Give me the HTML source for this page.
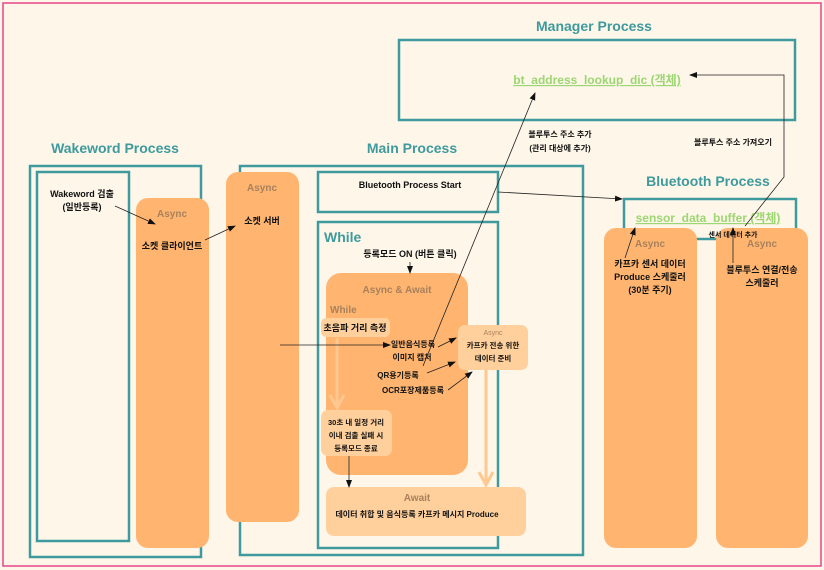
<!DOCTYPE html>
<html><head><meta charset="utf-8"><style>
html,body{margin:0;padding:0;background:#fdf6e9;}
svg{display:block;font-family:"Liberation Sans","Noto Sans CJK KR",sans-serif;}
.b{font-weight:bold;}
</style></head><body>
<svg width="824" height="570" viewBox="0 0 824 570" xmlns="http://www.w3.org/2000/svg">
<defs>
<marker id="a" markerWidth="8" markerHeight="8" refX="7" refY="4" orient="auto" markerUnits="userSpaceOnUse"><path d="M0,1 L8,4 L0,7z" fill="#111"/></marker>
</defs>
<rect x="0" y="0" width="824" height="570" fill="#fdf6e9"/>
<rect x="3" y="3" width="818" height="563" fill="none" stroke="#e8458a" stroke-width="1.5"/>
<g fill="none" stroke="#3e9a9c" stroke-width="2.5">
<rect x="399" y="40" width="396" height="80"/>
<rect x="30" y="166" width="171" height="391"/>
<rect x="37" y="172" width="92" height="369"/>
<rect x="240" y="166" width="343" height="389"/>
<rect x="318" y="172" width="180" height="40"/>
<rect x="318" y="222" width="180" height="326"/>
<rect x="624" y="199" width="172" height="40"/>
</g>
<g fill="#3e9a9c" class="b" font-size="14" text-anchor="middle">
<text x="594" y="31">Manager Process</text>
<text x="115" y="153">Wakeword Process</text>
<text x="412" y="153">Main Process</text>
<text x="708" y="186">Bluetooth Process</text>
<text x="324" y="242" text-anchor="start">While</text>
</g>
<g fill="#ffb570">
<rect x="136" y="198" width="73" height="350" rx="12"/>
<rect x="226" y="172" width="73" height="350" rx="12"/>
<rect x="326" y="273" width="142" height="202" rx="15"/>
<rect x="604" y="228" width="93" height="320" rx="12"/>
<rect x="716" y="228" width="92" height="320" rx="12"/>
</g>
<g fill="#ffd09c">
<rect x="321" y="318" width="69" height="19" rx="5"/>
<rect x="321" y="410" width="71" height="46" rx="7"/>
<rect x="326" y="487" width="200" height="49" rx="8"/>
<rect x="458" y="325" width="70" height="45" rx="7"/>
</g>
<g stroke="#ffc890" stroke-width="3" fill="none">
<line x1="337" y1="338" x2="337" y2="408"/>
<polyline points="330,395 337,408 344,395"/>
<line x1="486" y1="370" x2="486" y2="485"/>
<polyline points="479,472 486,485 493,472"/>
</g>
<g fill="#a8805c" class="b" font-size="10" text-anchor="middle">
<text x="172" y="217">Async</text>
<text x="262" y="191">Async</text>
<text x="397" y="293">Async &amp; Await</text>
<text x="330" y="313" text-anchor="start">While</text>
<text x="417" y="501">Await</text>
<text x="650" y="247">Async</text>
<text x="762" y="247">Async</text>
<text x="493" y="335" font-size="7" font-weight="normal">Async</text>
</g>
<g fill="#111" class="b" font-size="9" text-anchor="middle">
<text x="82" y="197">Wakeword 검출</text>
<text x="82" y="210">(일반등록)</text>
<text x="172" y="249">소켓 클라이언트</text>
<text x="262" y="224">소켓 서버</text>
<text x="410" y="188">Bluetooth Process Start</text>
<text x="410" y="257">등록모드 ON (버튼 클릭)</text>
<text x="355" y="331">초음파 거리 측정</text>
<text x="413" y="347" font-size="8">일반음식등록</text>
<text x="412" y="360" font-size="8">이미지 캡처</text>
<text x="398" y="378" font-size="8">QR용기등록</text>
<text x="413" y="393" font-size="8">OCR포장제품등록</text>
<text x="493" y="348" font-size="7.5">카프카 전송 위한</text>
<text x="493" y="361" font-size="7.5">데이터 준비</text>
<text x="356" y="425" font-size="7.5">30초 내 일정 거리</text>
<text x="356" y="438" font-size="7.5">이내 검출 실패 시</text>
<text x="356" y="451" font-size="7.5">등록모드 종료</text>
<text x="417" y="517" font-size="8">데이터 취합 및 음식등록 카프카 메시지 Produce</text>
<text x="650" y="267">카프카 센서 데이터</text>
<text x="650" y="280">Produce 스케줄러</text>
<text x="650" y="293">(30분 주기)</text>
<text x="762" y="273">블루투스 연결/전송</text>
<text x="762" y="286">스케줄러</text>
<text x="733" y="237" font-size="7">센서 데이터 추가</text>
<text x="560" y="137" font-size="8">블루투스 주소 추가</text>
<text x="560" y="151" font-size="8">(관리 대상에 추가)</text>
<text x="733" y="145" font-size="8">블루투스 주소 가져오기</text>
</g>
<g fill="#9dd672" class="b" font-size="12" text-anchor="middle" text-decoration="underline">
<text x="597" y="84">bt_address_lookup_dic (객체)</text>
<text x="708" y="222">sensor_data_buffer (객체)</text>
</g>
<g stroke="#222" stroke-width="0.8" fill="none">
<line x1="115" y1="206" x2="155" y2="224" marker-end="url(#a)"/>
<line x1="205" y1="240" x2="235" y2="226" marker-end="url(#a)"/>
<line x1="410" y1="262" x2="410" y2="273" marker-end="url(#a)"/>
<line x1="280" y1="345" x2="390" y2="345" marker-end="url(#a)"/>
<line x1="438" y1="347" x2="456" y2="338" marker-end="url(#a)"/>
<line x1="427" y1="373" x2="455" y2="362" marker-end="url(#a)"/>
<line x1="448" y1="390" x2="472" y2="372" marker-end="url(#a)"/>
<line x1="349" y1="456" x2="349" y2="487" marker-end="url(#a)"/>
<line x1="423" y1="366" x2="535" y2="93" marker-end="url(#a)"/>
<line x1="498" y1="192" x2="622" y2="199" marker-end="url(#a)"/>
<line x1="625" y1="258" x2="635" y2="228" marker-end="url(#a)"/>
<line x1="733" y1="263" x2="733" y2="228" marker-end="url(#a)"/>
<polyline points="745,226 784,177 784,75 690,75" marker-end="url(#a)"/>
</g>
</svg>
</body></html>
